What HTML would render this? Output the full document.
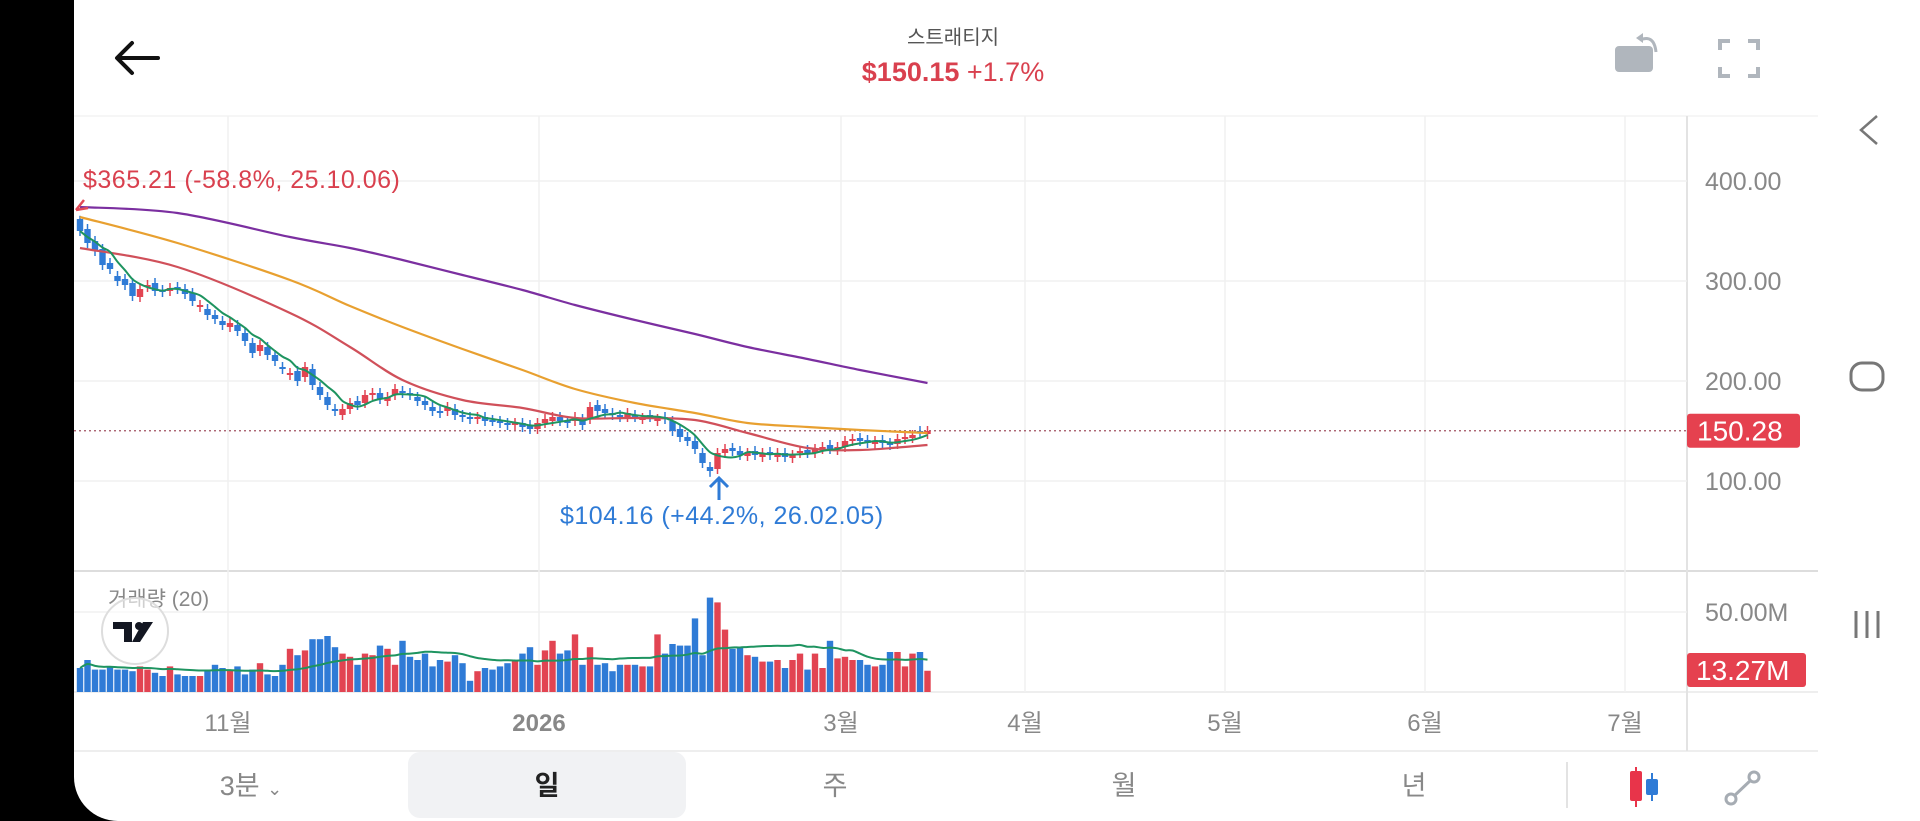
<!DOCTYPE html>
<html><head><meta charset="utf-8">
<style>
html,body{margin:0;padding:0;width:1920px;height:821px;overflow:hidden;background:#000;}
#app{position:absolute;left:74px;top:0;width:1846px;height:821px;background:#fff;border-bottom-left-radius:44px;overflow:hidden;}
svg{position:absolute;left:0;top:0;}
text{font-family:"Liberation Sans","Noto Sans CJK KR",sans-serif;}
</style></head>
<body>
<div id="app"></div>
<svg id="s" width="1920" height="821">
  <g id="grid"></g>
  <g>
    <path d="M118 58 L158 58 M132 43 L117 58 L132 73" stroke="#111" stroke-width="4" fill="none" stroke-linecap="round" stroke-linejoin="round"/>
    <text x="953" y="44" font-size="20" fill="#555" text-anchor="middle">스트래티지</text>
    <text x="953" y="81" font-size="27" font-weight="bold" fill="#d9404e" text-anchor="middle">$150.15 <tspan font-weight="normal">+1.7%</tspan></text>
    <g><rect x="1615" y="46" width="38" height="26" rx="4" fill="#b0b6bd"/><path d="M1640 40 q14 -6 16 12" stroke="#b0b6bd" stroke-width="3" fill="none"/><path d="M1636 38 l7 -5 l0 10z" fill="#b0b6bd"/></g>
    <path d="M1720 50 v-9 h10 M1748 41 h10 v9 M1758 67 v9 h-10 M1730 76 h-10 v-9" stroke="#b0b6bd" stroke-width="4" fill="none"/>
  </g>
  <g id="candles"></g>
  <g id="mas"></g>
  <g id="vol"></g>
  <g id="axes"></g>
  <g>
    <text x="83" y="188" font-size="25" letter-spacing="0.5" fill="#d9404e">$365.21 (-58.8%, 25.10.06)</text>
    <path d="M76 210 l8 -10 M76 210 l12 -2" stroke="#e24a57" stroke-width="2.5" fill="none"/>
    <text x="560" y="524" font-size="25" letter-spacing="0.5" fill="#2f7bd6">$104.16 (+44.2%, 26.02.05)</text>
    <path d="M719 500 V478 M710 487 L719 478 L728 487" stroke="#2f7bd6" stroke-width="3" fill="none"/>
    <text x="108" y="606" font-size="21" fill="#888">거래량 (20)</text>
    <circle cx="135" cy="631" r="33" fill="#fff" fill-opacity="0.6" stroke="#ddd" stroke-width="2"/>
    <path d="M113 622 h19 v20 h-8 v-13 h-11z M143 622 h10 l-13 20 h-8z" fill="#131722"/>
    <circle cx="139" cy="626" r="4" fill="#131722"/>
  </g>
  <g>
    <rect x="408" y="752" width="278" height="66" rx="12" fill="#f1f2f4"/>
    <text x="251" y="795" font-size="27" fill="#888" text-anchor="middle">3분 <tspan font-size="18">⌄</tspan></text>
    <text x="547" y="795" font-size="27" font-weight="bold" fill="#222" text-anchor="middle">일</text>
    <text x="835" y="795" font-size="27" fill="#888" text-anchor="middle">주</text>
    <text x="1124" y="795" font-size="27" fill="#888" text-anchor="middle">월</text>
    <text x="1414" y="795" font-size="27" fill="#888" text-anchor="middle">년</text>
    <line x1="1567" y1="762" x2="1567" y2="808" stroke="#e3e3e3" stroke-width="2"/>
    <g><line x1="1636" y1="767" x2="1636" y2="807" stroke="#e8344a" stroke-width="2"/><rect x="1630" y="771" width="12" height="30" rx="2" fill="#e8344a"/><line x1="1652" y1="773" x2="1652" y2="801" stroke="#2f7bd6" stroke-width="2"/><rect x="1646" y="779" width="12" height="16" rx="2" fill="#2f7bd6"/></g>
    <g><line x1="1733" y1="797" x2="1752" y2="779" stroke="#a6acb3" stroke-width="3"/><circle cx="1731" cy="799" r="5" fill="#fff" stroke="#a6acb3" stroke-width="3"/><circle cx="1754" cy="777" r="5" fill="#fff" stroke="#a6acb3" stroke-width="3"/></g>
  </g>
  <g>
    <path d="M1877 116 L1861 130 L1877 144" stroke="#777" stroke-width="2.5" fill="none"/>
    <rect x="1851" y="363" width="32" height="27" rx="11" fill="none" stroke="#777" stroke-width="3"/>
    <path d="M1856 611 v27 M1867 611 v27 M1878 611 v27" stroke="#777" stroke-width="3"/>
  </g>
</svg>
<script>
const opens=[362,352,340,332,318,305,302,298,284,294,298,291,290,294,292,288,274,272,266,260,254,256,248,238,230,234,226,214,206,210,204,212,194,184,172,166,172,180,178,186,188,180,186,190,188,184,180,174,170,170,172,166,164,162,164,161,160,158,156,158,156,152,158,160,164,160,160,162,162,176,172,168,166,164,166,162,166,160,164,160,152,144,140,128,114,112,128,133,130,125,130,124,129,124,128,123,128,131,128,132,136,131,134,140,143,141,137,141,138,137,142,143,150,147];
const closes=[350,338,330,316,312,300,296,285,292,296,290,289,293,292,287,280,276,266,262,256,258,250,240,228,236,226,220,212,208,200,214,196,186,176,170,172,178,176,186,188,182,184,192,188,186,180,176,170,168,174,166,164,162,164,160,160,158,156,158,154,152,158,162,164,160,158,164,156,174,170,168,166,164,168,164,163,164,162,162,150,144,140,132,118,110,128,132,130,126,128,126,128,126,128,124,126,130,128,132,134,132,134,140,142,140,138,140,138,136,142,144,146,148,150];
const volumes=[15,20,14,14,16,14,14,13,16,14,12,10,16,11,10,10,10,13,17,15,14,16,11,14,18,11,10,17,27,23,26,33,33,35,28,24,22,17,24,23,29,27,17,32,22,20,24,16,20,19,23,18,7,13,15,14,16,18,20,24,28,17,26,32,24,26,36,17,28,17,18,13,17,17,17,16,16,36,24,30,29,29,46,23,59,56,39,27,28,23,22,19,19,20,15,20,24,14,24,15,32,21,22,20,20,17,16,17,25,25,16,24,25,13.27];
const maIdx=[0,13,28,36,43,51,59,66,74,82,89,97,104,113];
const ma20=[333,314,268,234,201,181,173,163,163,161,148,133,131,136];
const ma50=[364,338,301,275,254,232,211,192,178,168,158,154,151,148];
const ma200=[374,368,344,333,321,306,291,276,261,247,234,222,211,198];
const priceTicks=[400,300,200,100];
const monthLabels=['11월','2026','3월','4월','5월','6월','7월'];
const monthX=[228,539,841,1025,1225,1425,1625];
const lastPrice=150.28;

const NS='http://www.w3.org/2000/svg';
function mk(p,tag,attrs){const e=document.createElementNS(NS,tag);for(const k in attrs)e.setAttribute(k,attrs[k]);p.appendChild(e);return e;}
const X=i=>80+i*7.5;
const Y=p=>581-p;
const VY=v=>692-v*1.6;
const UP='#e24452',DN='#2f7bd6';
const grid=document.getElementById('grid');
mk(grid,'line',{x1:74,y1:116,x2:1818,y2:116,stroke:'#eee','stroke-width':1});
mk(grid,'line',{x1:74,y1:571,x2:1818,y2:571,stroke:'#ddd','stroke-width':2});
mk(grid,'line',{x1:74,y1:692,x2:1818,y2:692,stroke:'#eee','stroke-width':2});
mk(grid,'line',{x1:74,y1:751,x2:1818,y2:751,stroke:'#eee','stroke-width':2});
mk(grid,'line',{x1:1687,y1:116,x2:1687,y2:751,stroke:'#e3e3e3','stroke-width':2});
priceTicks.forEach(p=>{mk(grid,'line',{x1:74,y1:Y(p),x2:1687,y2:Y(p),stroke:'#f0f0f0','stroke-width':1.5});});
mk(grid,'line',{x1:74,y1:VY(50),x2:1687,y2:VY(50),stroke:'#f0f0f0','stroke-width':1.5});
monthX.forEach(x=>{mk(grid,'line',{x1:x,y1:116,x2:x,y2:692,stroke:'#f0f0f0','stroke-width':1.5});});
mk(grid,'line',{x1:74,y1:Y(lastPrice),x2:1687,y2:Y(lastPrice),stroke:'#a05060','stroke-width':1.2,'stroke-dasharray':'2 3'});

const cg=document.getElementById('candles');
opens.forEach((o,i)=>{
  const c=closes[i];const col=c>=o?UP:DN;const x=X(i);
  let hi=Math.max(o,c)+5, lo=Math.min(o,c)-5;
  if(i===0)hi=365.21; if(i===84)lo=104.16;
  const w=mk(cg,'line',{x1:x,y1:Y(hi),x2:x,y2:Y(lo),stroke:col,'stroke-width':1.5});
  
  
  const r=mk(cg,'rect',{x:x-3.2,y:Y(Math.max(o,c)),width:6.4,height:Math.max(2,Math.abs(o-c)),fill:col});
  
  
});

const mg=document.getElementById('mas');
function smoothPath(pts){
  let d='M'+pts[0][0]+' '+pts[0][1];
  for(let k=0;k<pts.length-1;k++){
    const p0=pts[Math.max(0,k-1)],p1=pts[k],p2=pts[k+1],p3=pts[Math.min(pts.length-1,k+2)];
    const c1x=p1[0]+(p2[0]-p0[0])/6,c1y=p1[1]+(p2[1]-p0[1])/6;
    const c2x=p2[0]-(p3[0]-p1[0])/6,c2y=p2[1]-(p3[1]-p1[1])/6;
    d+=' C'+c1x+' '+c1y+' '+c2x+' '+c2y+' '+p2[0]+' '+p2[1];
  }
  return d;
}
function knotLine(vals,color,name){
  const pts=maIdx.map((i,k)=>[X(i),Y(vals[k])]);
  const l=mk(mg,'path',{d:smoothPath(pts),fill:'none',stroke:color,'stroke-width':2.2});
  
  
}
knotLine(ma200,'#7b2fa0','ma200-line');
knotLine(ma50,'#e8a030','ma50-line');
knotLine(ma20,'#d0505a','ma20-line');
const sp=closes.map((c,i)=>{const s=closes.slice(Math.max(0,i-4),i+1);return [X(i),Y(s.reduce((a,b)=>a+b,0)/s.length)];});
const g5=mk(mg,'path',{d:smoothPath(sp),fill:'none',stroke:'#1e9460','stroke-width':2});



const vg=document.getElementById('vol');
volumes.forEach((v,i)=>{
  const col=closes[i]>=opens[i]?UP:DN;
  const b=mk(vg,'rect',{x:X(i)-3.2,y:VY(v),width:6.4,height:v*1.6,fill:col});
  
  
});
const vp=volumes.map((v,i)=>{const s=volumes.slice(Math.max(0,i-19),i+1);return [X(i),VY(s.reduce((a,b)=>a+b,0)/s.length)];});
const vl=mk(vg,'path',{d:smoothPath(vp),fill:'none',stroke:'#1e9460','stroke-width':2});



const ag=document.getElementById('axes');
priceTicks.forEach(p=>{
  const t=mk(ag,'text',{x:1705,y:Y(p)+9,'font-size':25,fill:'#888'});t.textContent=p.toFixed(2);
  
  
});
const vt=mk(ag,'text',{x:1705,y:VY(50)+9,'font-size':25,fill:'#888'});vt.textContent='50.00M';


monthLabels.forEach((m,k)=>{
  const t=mk(ag,'text',{x:monthX[k],y:731,'font-size':24,fill:'#888','text-anchor':'middle','font-weight':m==='2026'?'bold':'normal'});t.textContent=m;
  
  
});
mk(ag,'rect',{x:1687,y:Y(lastPrice)-17,width:113,height:34,rx:3,fill:'#e5414f'});
const pl=mk(ag,'text',{x:1697,y:Y(lastPrice)+10,'font-size':28,fill:'#fff'});pl.textContent=lastPrice.toFixed(2);


const lv=volumes[volumes.length-1];
mk(ag,'rect',{x:1687,y:653,width:119,height:34,rx:3,fill:'#e5414f'});
const vlab=mk(ag,'text',{x:1696,y:680,'font-size':28,fill:'#fff'});vlab.textContent=lv.toFixed(2)+'M';


</script>
</body></html>
